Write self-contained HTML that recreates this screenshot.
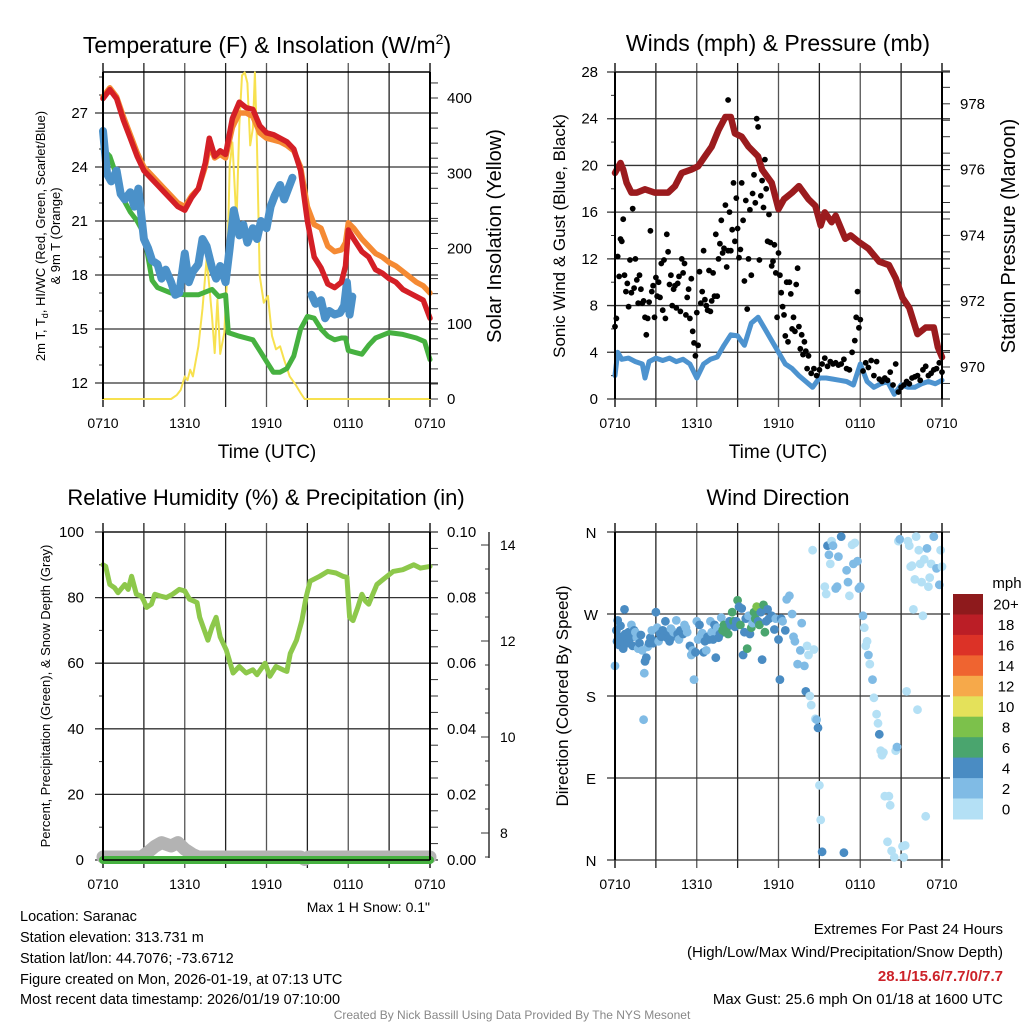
<!DOCTYPE html>
<html><head><meta charset="utf-8"><style>
html,body{margin:0;padding:0;background:#fff}
svg{display:block;font-family:"Liberation Sans",Arial,sans-serif}
</style></head><body>
<svg id="s" width="1024" height="1024" viewBox="0 0 1024 1024" xmlns="http://www.w3.org/2000/svg">
<g id="static">
<text x="267" y="53" font-size="23" text-anchor="middle">Temperature (F) &amp; Insolation (W/m<tspan font-size="14" dy="-9">2</tspan><tspan dy="9">)</tspan></text>
<text x="778" y="51" font-size="23" text-anchor="middle">Winds (mph) &amp; Pressure (mb)</text>
<text x="266" y="505" font-size="22" text-anchor="middle">Relative Humidity (%) &amp; Precipitation (in)</text>
<text x="778" y="505" font-size="22" text-anchor="middle">Wind Direction</text>
<text x="267" y="458" font-size="19" text-anchor="middle">Time (UTC)</text>
<text x="778" y="458" font-size="19" text-anchor="middle">Time (UTC)</text>
<text transform="translate(45,236) rotate(-90)" font-size="13" text-anchor="middle">2m T, T<tspan font-size="9" dy="3">d</tspan><tspan dy="-3">, HI/WC (Red, Green, Scarlet/Blue)</tspan></text>
<text transform="translate(60,236) rotate(-90)" font-size="13" text-anchor="middle">&amp; 9m T (Orange)</text>
<text transform="translate(501,236) rotate(-90)" font-size="20" text-anchor="middle">Solar Insolation (Yellow)</text>
<text transform="translate(565,236) rotate(-90)" font-size="17" text-anchor="middle">Sonic Wind &amp; Gust (Blue, Black)</text>
<text transform="translate(1015,236) rotate(-90)" font-size="20" text-anchor="middle">Station Pressure (Maroon)</text>
<text transform="translate(50,696) rotate(-90)" font-size="13" text-anchor="middle">Percent, Precipitation (Green), &amp; Snow Depth (Gray)</text>
<text transform="translate(568,696) rotate(-90)" font-size="17" text-anchor="middle">Direction (Colored By Speed)</text>
<text x="430" y="912" font-size="14" text-anchor="end">Max 1 H Snow: 0.1"</text>
<g font-size="14.5">
<text x="20" y="921">Location: Saranac</text>
<text x="20" y="942">Station elevation: 313.731 m</text>
<text x="20" y="963">Station lat/lon: 44.7076; -73.6712</text>
<text x="20" y="984">Figure created on Mon, 2026-01-19, at 07:13 UTC</text>
<text x="20" y="1004">Most recent data timestamp: 2026/01/19 07:10:00</text>
</g>
<g font-size="15" text-anchor="end">
<text x="1003" y="934">Extremes For Past 24 Hours</text>
<text x="1003" y="957">(High/Low/Max Wind/Precipitation/Snow Depth)</text>
<text x="1003" y="981" fill="#cc2229" font-weight="bold">28.1/15.6/7.7/0/7.7</text>
<text x="1003" y="1004">Max Gust: 25.6 mph On 01/18 at 1600 UTC</text>
</g>
<text x="512" y="1019" font-size="12" fill="#888" text-anchor="middle">Created By Nick Bassill Using Data Provided By The NYS Mesonet</text>
</g>
</svg>
<script>
// ---- data (hours since 0710 UTC) ----
const timeLabels=["0710","1310","1910","0110","0710"];
const tempTicks=[12,15,18,21,24,27];
const solarTicks=[0,100,200,300,400];
const windTicks=[0,4,8,12,16,20,24,28];
const pressTicks=[970,972,974,976,978];
const rhTicks=[0,20,40,60,80,100];
const precipTicks=["0.00","0.02","0.04","0.06","0.08","0.10"];
const snowTicks=[8,10,12,14];
const dirTicks=["N","E","S","W","N"];
const cbLabels=["0","2","4","6","8","10","12","14","16","18","20+"];
const cbColors=["#b4e0f5","#80bbe5","#4a8cc3","#4aa56e","#7cc14b","#e4e15a","#f6a94a","#ef6430","#dc3227","#bb1e26","#8e1a1c"];

const redH=[0,0.5,1,1.5,2,2.5,3,3.5,4,4.5,5,5.5,6,6.5,7,7.5,7.8,8.2,8.6,9,9.5,10,10.5,11,11.5,12,12.5,13,13.5,14,14.5,15,15.5,16,16.5,17,17.5,17.8,18,18.4,19,19.5,20,20.5,21,21.5,22,22.5,23,23.5,24];
const redT=[27.8,28.3,27.8,26.6,25.6,24.6,23.8,23.4,23.0,22.6,22.2,21.8,21.6,22.3,22.8,24.2,25.6,24.6,24.9,24.7,26.7,27.6,27.3,27.2,26.3,25.9,25.8,25.6,25.4,25.0,23.8,21.0,19.0,18.4,17.5,17.3,17.6,18.5,20.5,20.0,19.3,19.0,18.3,18.1,17.8,17.6,17.2,17.0,16.8,16.6,15.6];
const orangeH=[0,0.5,1,1.5,2,2.5,3,3.5,4,4.5,5,5.5,6,6.5,7,7.5,7.8,8.2,8.6,9,9.5,10,10.5,11,11.5,12,12.5,13,13.5,14,14.5,15,15.5,16,16.5,17,17.5,17.8,18,18.4,19,19.5,20,20.5,21,21.5,22,22.5,23,23.5,24];
const orangeT=[27.9,28.4,27.9,26.8,25.8,24.8,24.0,23.6,23.2,22.8,22.4,22.0,21.8,22.4,22.8,24.0,25.2,24.5,24.7,24.5,26.2,27.0,27.0,26.8,25.9,25.6,25.5,25.4,25.2,24.9,24.0,21.8,20.8,20.6,19.6,19.3,19.4,19.8,20.9,20.6,20.0,19.6,19.2,19.0,18.7,18.5,18.2,17.9,17.6,17.4,17.0];
const greenH=[0,0.5,1,1.5,2,2.5,3,3.3,3.6,4,5,6,7,8,8.5,9,9.2,10,11,11.5,12,12.5,13,13.5,14,14.5,15,15.5,16,16.5,17,17.5,17.8,18,18.5,19,19.5,20,21,22,23,23.6,24];
const greenT=[25.0,24.6,23.5,22.2,21.5,21.0,20.3,19.0,17.7,17.3,17.0,16.9,16.9,17.2,16.8,16.9,14.8,14.6,14.4,13.8,13.2,12.6,12.6,12.8,13.5,15.0,15.7,15.6,15.0,14.6,14.4,14.5,14.5,13.8,13.7,13.6,14.1,14.5,14.8,14.7,14.5,14.3,13.3];
const blueH=[0,0.3,0.6,1,1.3,1.6,2,2.3,2.6,3,3.3,3.6,4,4.3,4.6,5,5.3,5.6,6,6.3,6.6,7,7.3,7.6,8,8.3,8.6,9,9.3,9.6,10,10.3,10.6,11,11.3,11.6,12,12.3,12.6,13,13.3,13.6,13.9,14.2,15.3,15.6,16,16.3,16.6,17,17.4,17.7,17.9,18.1,18.3,23.7,24];
const blueT=[26.0,23.6,23.2,23.8,22.5,22.2,22.6,21.8,22.8,20.0,19.5,18.8,18.6,17.8,18.3,17.6,16.9,17.0,19.2,17.6,18.2,18.6,20.0,19.6,18.4,17.8,18.5,17.6,19.5,21.6,20.2,20.8,19.8,20.6,20.0,21.0,20.6,21.8,22.4,23.0,22.2,22.8,23.4,null,16.9,16.4,16.6,15.6,16.0,15.8,15.9,16.3,17.6,15.8,16.8,null,15.1];
const solarH=[0,5,5.4,5.7,6,6.2,6.4,6.6,7,7.3,7.6,7.8,8,8.2,8.4,8.6,8.9,9.1,9.3,9.5,9.8,10.0,10.2,10.4,10.6,10.8,11.0,11.15,11.3,11.5,11.8,12.1,12.4,12.7,13.0,13.3,13.7,14.1,14.5,14.8,24];
const solarW=[0,0,5,12,30,25,39,30,70,120,186,150,110,61,132,60,88,160,310,341,235,363,430,434,420,337,360,434,337,164,128,137,84,66,70,52,30,20,8,0,0];

const pressH=[0,0.4,0.6,0.85,1.2,1.6,2.2,2.9,3.9,4.4,4.9,5.6,6.1,6.6,7.1,7.6,8.1,8.5,8.8,9.3,9.8,10.5,10.8,11.5,12,12.4,13,13.5,14.2,14.7,15.1,15.4,15.9,16.2,16.9,17.3,17.9,18.6,19.4,20.1,20.6,21.1,21.6,22.2,22.8,23.4,23.7,24];
const pressMb=[975.9,976.2,976.0,975.6,975.3,975.3,975.4,975.3,975.3,975.5,975.9,976.0,976.1,976.4,976.7,977.2,977.6,977.6,977.1,977.0,976.7,976.4,976.0,975.6,974.8,975.1,975.3,975.5,975.1,974.9,974.3,974.7,974.4,974.6,973.9,974.0,973.8,973.6,973.2,973.1,972.7,972.1,971.8,971.0,971.2,971.2,970.6,970.3];
const windH=[0,0.2,0.5,1,1.5,2,2.2,2.5,3,3.5,4,4.5,5,5.5,6,6.5,7,7.5,8,8.5,9,9.5,10,10.5,11,11.5,12,12.5,13,13.5,14,14.5,15,15.5,16,16.5,17,17.5,18,18.5,19,19.5,20,20.5,21,21.5,22,22.5,23,23.5,24];
const windMph=[2.0,4.0,3.4,3.5,3.2,3.0,1.8,3.2,3.5,3.3,3.5,3.2,3.4,3.0,1.8,3.0,3.4,3.6,4.6,5.5,5.4,4.6,6.5,7.0,6.0,5.0,4.0,3.0,2.6,2.0,1.5,1.0,1.8,1.8,1.7,1.6,1.5,1.2,3.0,1.5,1.0,1.3,1.5,0.4,1.2,1.0,1.0,1.3,1.5,1.3,1.6];
const gustH=[0.0,0.1,0.2,0.3,0.4,0.5,0.6,0.7,0.8,0.9,1.0,1.1,1.2,1.3,1.4,1.5,1.6,1.7,1.8,1.9,2.0,2.1,2.2,2.3,2.4,2.5,2.6,2.7,2.8,2.9,3.0,3.1,3.2,3.3,3.4,3.5,3.6,3.7,3.8,3.9,4.0,4.1,4.2,4.3,4.4,4.5,4.6,4.7,4.8,4.9,5.0,5.1,5.2,5.3,5.4,5.5,5.6,5.7,5.8,5.9,6.0,6.1,6.2,6.3,6.4,6.5,6.6,6.7,6.8,6.9,7.0,7.1,7.2,7.3,7.4,7.5,7.6,7.7,7.8,7.9,8.0,8.1,8.2,8.3,8.4,8.5,8.6,8.7,8.8,8.9,9.0,9.1,9.2,9.3,9.4,9.5,9.6,9.7,9.8,9.9,10.0,10.1,10.2,10.3,10.4,10.5,10.6,10.7,10.8,10.9,11.0,11.1,11.2,11.3,11.4,11.5,11.6,11.7,11.8,11.9,12.0,12.1,12.2,12.3,12.4,12.5,12.6,12.7,12.8,12.9,13.0,13.1,13.2,13.3,13.4,13.5,13.6,13.7,13.8,13.9,14.0,14.1,14.2,14.4,14.6,14.8,15.0,15.2,15.4,15.6,15.8,16.0,16.2,16.4,16.6,16.8,17.0,17.2,17.4,17.6,17.7,17.8,17.9,18.0,18.2,18.4,18.6,18.8,19.0,19.2,19.4,19.6,19.8,20.0,20.2,20.4,20.6,20.8,21.0,21.2,21.4,21.6,21.8,22.0,22.2,22.4,22.6,22.8,23.0,23.2,23.4,23.6,23.8,24.0,8.3];
const gustMph=[6.2,6.9,12.2,10.5,13.7,13.5,15.4,10.6,9.2,9.9,7.9,11.9,9.1,16.3,9.5,12.0,10.2,8.2,10.6,9.4,8.2,8.4,7.0,5.5,6.9,8.3,14.4,9.2,9.7,7.0,10.4,8.8,10.0,8.7,11.6,7.6,11.9,6.9,14.1,12.6,9.8,10.6,8.0,9.4,9.7,7.8,9.9,10.5,7.5,12.0,10.8,11.6,7.2,8.7,9.4,6.9,10.3,5.8,4.8,3.7,7.4,4.6,10.9,8.2,9.2,12.7,8.5,8.0,7.6,11.0,7.5,8.4,10.8,8.8,14.1,8.8,12.0,13.3,15.3,12.5,12.9,16.6,11.3,12.7,16.0,12.7,14.5,18.5,13.5,17.2,14.6,12.1,12.8,18.5,15.3,10.1,17.0,7.7,12.0,16.2,10.6,17.6,19.2,16.8,24.0,23.3,11.9,17.4,18.7,16.4,20.5,18.0,13.5,15.8,13.4,11.4,11.8,13.2,10.8,7.0,12.5,10.6,9.1,7.9,7.2,5.4,10.0,4.9,10.0,9.0,6.0,7.0,5.8,9.8,11.2,6.2,4.3,5.5,3.8,4.9,4.1,2.6,3.7,2.2,2.6,2.0,2.5,3.0,3.5,2.8,3.2,3.0,3.1,2.9,3.0,3.4,2.6,2.5,4.0,5.0,7.0,9.2,6.1,6.8,2.4,3.1,2.7,3.3,2.0,3.2,1.7,1.5,1.8,1.6,2.3,1.2,3.0,0.6,1.0,1.2,1.5,1.3,1.8,1.9,2.0,1.6,2.5,2.8,2.0,2.2,2.5,2.6,3.1,2.3,25.6];

const rhH=[0,0.2,0.5,0.85,1.1,1.6,1.85,2.1,2.45,2.8,3.0,3.2,3.55,3.8,4.2,4.65,5.1,5.6,6.0,6.35,6.9,7.1,7.7,8.0,8.3,8.6,9.05,9.55,10,10.5,11,11.3,11.9,12.25,12.7,13.2,13.5,13.75,14.2,14.6,14.9,15.2,15.9,16.5,17.1,17.6,17.9,18.1,18.35,18.7,19.0,19.25,19.5,19.7,20.1,20.7,21.3,22.0,22.8,23.3,24];
const rhPct=[90,89.5,84,83,81.5,84,82.5,86.5,81,80.5,79,77,78,81,80.5,80,81,82.5,82,79.5,78.5,74,67,71,74,68,64,57,59,57,58,56.5,60,56,59,58,57.5,63,67,73,80,85,86.5,88,87.5,86.5,86.2,74,73,77,81,79,78,80,84,86,88,88.5,90,89,89.5];
const precipH=[0,24];
const precipIn=[0,0];
const snowH=[0,2.8,3.3,3.8,4.3,5.0,5.5,6.0,6.6,7,14.5,14.8,15.1,24];
const snowIn=[7.5,7.5,7.6,7.72,7.8,7.73,7.8,7.66,7.55,7.5,7.5,7.45,7.5,7.5];

const dirH=[0.0,0.1,0.15,0.2,0.3,0.35,0.4,0.5,0.6,0.7,0.75,0.8,0.9,
1.0,1.1,1.2,1.3,1.4,1.5,1.6,1.7,1.8,1.9,
2.0,2.1,2.15,2.2,2.3,2.4,2.5,2.6,2.7,2.8,2.9,
3.0,3.1,3.2,3.3,3.4,3.5,3.6,3.7,3.8,3.9,
4.0,4.1,4.2,4.3,4.5,4.6,4.7,4.8,
5.0,5.1,5.2,5.3,5.5,5.6,5.7,5.8,5.9,
6.0,6.1,6.2,6.3,6.4,6.5,6.6,6.7,6.8,6.9,
7.0,7.1,7.2,7.3,7.4,7.5,7.6,7.7,7.8,7.9,
8.0,8.1,8.2,8.3,8.4,8.5,8.6,8.7,8.8,8.9,
9.0,9.1,9.2,9.3,9.4,9.5,9.6,9.7,9.8,9.9,
10.0,10.1,10.2,10.3,10.4,10.5,10.6,10.7,10.8,10.9,
11.0,11.1,11.2,11.3,11.5,11.7,11.8,
12.0,12.1,12.2,12.3,12.5,12.6,12.8,
13.0,13.1,13.2,13.4,13.6,13.7,13.9,
14.0,14.1,14.2,14.3,14.4,14.5,14.6,14.7,14.8,14.9,
15.0,15.1,15.2,15.4,15.5,15.6,15.7,15.8,15.9,
16.0,16.2,16.3,16.4,16.6,16.8,
17.0,17.1,17.2,17.4,17.5,17.6,17.8,17.9,
18.0,18.2,18.3,18.4,18.5,18.6,18.7,18.9,
19.0,19.2,19.3,19.4,19.5,19.6,19.7,19.8,
20.0,20.1,20.2,20.3,20.5,20.6,20.7,20.8,20.9,
21.1,21.2,21.3,21.4,21.5,21.6,21.7,21.8,21.9,
22.0,22.1,22.2,22.3,22.4,22.5,22.6,22.7,22.8,22.9,
23.0,23.1,23.2,23.4,23.6,23.8,23.9,
24.0];
const dirDeg=[213,252,240,263,236,245,257,240,232,275,248,245,238,
250,243,258,235,252,250,244,232,238,247,
230,154,205,218,222,234,238,244,252,238,240,
272,255,240,248,245,252,246,262,244,250,
240,254,245,250,263,248,242,252,
248,258,255,250,235,225,230,198,228,
262,242,258,246,249,228,240,230,245,242,
262,250,242,258,222,255,244,248,266,252,
258,250,255,248,262,258,272,262,256,262,
285,278,258,276,225,250,265,232,268,248,
255,260,272,265,278,262,258,272,220,280,
250,262,275,265,268,253,265,
242,198,265,262,252,286,290,
270,245,240,215,230,260,213,
185,235,225,180,170,340,231,155,154,145,
82,44,9,300,292,345,335,325,350,
345,298,300,333,355,8,
318,305,290,346,325,348,328,298,
300,268,255,235,240,225,215,198,
178,160,150,138,120,115,118,70,
20,70,60,10,3,120,124,350,352,
15,3,16,185,350,345,322,323,275,
308,355,165,340,325,305,268,330,48,342,
300,310,325,355,320,302,340,
322];
const dirSpd=[3,4,4,5,4,5,4,5,4,5,4,5,5,
4,5,3,4,5,3,3,3,4,5,
3,3,3,4,5,3,4,5,3,4,5,
5,3,3,4,5,5,5,5,4,5,
5,3,4,3,3,5,3,4,
5,3,3,3,5,3,3,3,4,
3,3,5,3,3,4,4,3,5,5,
3,3,5,4,5,3,5,4,3,6,
6,7,6,6,5,4,7,6,5,5,
6,4,6,5,5,4,4,6,3,4,
6,3,6,7,8,4,6,4,5,6,
6,5,5,4,5,4,3,
5,5,4,3,4,3,3,
3,3,3,3,3,2,3,
4,1,1,1,1,1,1,1,2,4,
1,1,5,1,1,5,2,1,1,
2,3,3,2,5,4,
2,2,1,1,2,1,3,3,
2,3,1,1,1,2,1,3,
1,1,1,4,1,1,1,1,
1,1,1,1,1,1,2,1,3,
1,1,1,1,1,1,1,1,1,
1,1,1,1,1,1,1,1,1,3,
1,1,1,3,2,3,1,
1];

// ---- helpers ----
const NS="http://www.w3.org/2000/svg";
const svg=document.getElementById('s');
function mk(tag,attrs,parent){const e=document.createElementNS(NS,tag);for(const k in attrs)e.setAttribute(k,attrs[k]);(parent||svg).appendChild(e);return e;}
const PX0=103,PW=327;
function xAt(off,h){return off+PX0+h*PW/24;}
const tempY=v=>113+(27-v)*18;
const solarY=v=>399-v*0.7525;
const windY=v=>399-v*(327/28);
const pressY=v=>367-(v-970)*32.9;
const rhY=v=>532+(100-v)*3.28;
const precipY=v=>860-v*3280;
const snowY=v=>641+(12-v)*48;
const dirY=v=>860-v*(328/360);

function pathD(off,hs,vs,yf){let d="",pen=false;for(let i=0;i<hs.length;i++){if(vs[i]===null){pen=false;continue;}d+=(pen?"L":"M")+xAt(off,hs[i]).toFixed(1)+" "+yf(vs[i]).toFixed(1);pen=true;}return d;}

function frame(off,top,bottom,name){
  const g=mk('g',{});
  
  
  for(let k=0;k<=8;k++){const x=xAt(off,k*3);
    const l=mk('line',{x1:x,x2:x,y1:top-9,y2:bottom+8,stroke:(k%2==1?'#222':'#555'),'stroke-width':(k==0||k==8)?2:1.3},g);
    
    
  }
  for(let k=0;k<5;k++){const t=mk('text',{x:xAt(off,k*6),y:bottom+29,'font-size':14,'text-anchor':'middle'},g);t.textContent=timeLabels[k];
    
    }
  mk('line',{x1:off+PX0,x2:off+PX0+PW,y1:top,y2:top,stroke:'#000','stroke-width':1.5},g);
}
function hgrid(off,ys,x1ext,x2ext,name,dark){
  ys.forEach(y=>{const l=mk('line',{x1:off+PX0-x1ext,x2:off+PX0+PW+x2ext,y1:y,y2:y,stroke:dark?'#111':'#333','stroke-width':1.3});
    
    });
}
function leftLabels(off,vals,yf,xEnd,fs,name){vals.forEach(v=>{const t=mk('text',{x:xEnd,y:yf(v)+5,'font-size':fs||15,'text-anchor':'end'});t.textContent=v;
  
  });}
function rightLabels(x,vals,yf,fs,name){vals.forEach(v=>{const t=mk('text',{x:x,y:yf(+v)+5,'font-size':fs||15});t.textContent=v;
  
  });}
function ticks(x,ys,len){ys.forEach(y=>mk('line',{x1:x,x2:x+len,y1:y,y2:y,stroke:'#333','stroke-width':1}));}
function series(off,hs,vs,yf,color,w,name){const p=mk('path',{d:pathD(off,hs,vs,yf),fill:'none',stroke:color,'stroke-width':w,'stroke-linejoin':'round','stroke-linecap':'round'});
  
  return p;}

// ---- Panel 1 ----
frame(0,72,399,'temperature');
hgrid(0,tempTicks.map(tempY),8,8,'temp-gridline');
leftLabels(0,tempTicks,tempY,88,15,'temp-tick-label');
const minorT=[];for(let v=12;v<=29;v++)minorT.push(tempY(v));ticks(PX0,minorT,-4);
const minorS=[];for(let v=0;v<=420;v+=20)minorS.push(solarY(v));ticks(PX0+PW,minorS,8);
rightLabels(447,solarTicks,solarY,15,'solar-tick-label');
series(0,solarH,solarW,solarY,'#f7e14f',2,'solar-insolation-line');
series(0,greenH,greenT,tempY,'#46b140',5,'dewpoint-line');
series(0,orangeH,orangeT,tempY,'#f58a33',5.5,'temp-9m-line');
series(0,blueH,blueT,tempY,'#4b91c9',8,'windchill-line');
series(0,redH,redT,tempY,'#d41f26',5.5,'temp-2m-line');
mk('line',{x1:PX0,x2:PX0,y1:72,y2:399,stroke:'#000','stroke-width':2});
mk('line',{x1:PX0+PW,x2:PX0+PW,y1:72,y2:399,stroke:'#000','stroke-width':2});

// ---- Panel 2 ----
const O2=512;
frame(O2,72,399,'winds');
hgrid(O2,windTicks.map(windY),8,8,'wind-gridline');
leftLabels(O2,windTicks,windY,598,15,'wind-tick-label');
const minorW=[];for(let v=0;v<=28;v+=2)minorW.push(windY(v));ticks(O2+PX0,minorW,-4);
const minorP=[];for(let v=969.5;v<=979.2;v+=0.5)minorP.push(pressY(v));ticks(O2+PX0+PW,minorP,8);
rightLabels(960,pressTicks,pressY,15,'pressure-tick-label');
series(O2,pressH,pressMb,pressY,'#9b1b1e',6.5,'pressure-line');
series(O2,windH,windMph,windY,'#4d93cf',5,'sonic-wind-line');
gustH.forEach((h,i)=>{const c=mk('circle',{cx:xAt(O2,h).toFixed(1),cy:windY(gustMph[i]).toFixed(1),r:2.9,fill:'#000'});
  
  });
mk('line',{x1:O2+PX0,x2:O2+PX0,y1:72,y2:399,stroke:'#000','stroke-width':2});
mk('line',{x1:O2+PX0+PW,x2:O2+PX0+PW,y1:72,y2:399,stroke:'#000','stroke-width':2});

// ---- Panel 3 ----
frame(0,532,860,'humidity');
hgrid(0,rhTicks.map(rhY),8,8,'rh-gridline');
leftLabels(0,rhTicks,rhY,84,15,'rh-tick-label');
const minorR=[];for(let v=0;v<=100;v+=10)minorR.push(rhY(v));ticks(PX0,minorR,-4);
const minorPr=[];for(let v=0;v<=100;v+=5)minorPr.push(rhY(v));ticks(PX0+PW,minorPr,8);
precipTicks.forEach(v=>{const t=mk('text',{x:447,y:precipY(+v)+5,'font-size':15});t.textContent=v;
  
  });
const sa=mk('line',{x1:489,x2:489,y1:532,y2:858,stroke:'#333','stroke-width':1.5});


const minorSn=[];for(let v=7.5;v<=14.25;v+=0.5)minorSn.push(snowY(v));ticks(489,minorSn,-4);
ticks(489,snowTicks.map(snowY),-8);
rightLabels(500,snowTicks,snowY,14,'snow-tick-label');
series(0,snowH,snowIn,snowY,'#b3b3b3',13,'snow-depth-line');
series(0,precipH,precipIn,precipY,'#46b140',8,'precipitation-line');
series(0,rhH,rhPct,rhY,'#8dc84b',5,'relative-humidity-line');
mk('line',{x1:PX0,x2:PX0,y1:532,y2:860,stroke:'#000','stroke-width':2});
mk('line',{x1:PX0+PW,x2:PX0+PW,y1:532,y2:860,stroke:'#000','stroke-width':2});
mk('line',{x1:PX0,x2:PX0+PW,y1:860,y2:860,stroke:'#000','stroke-width':1.5});

// ---- Panel 4 ----
frame(O2,532,860,'direction');
const dirVals=[0,90,180,270,360];
hgrid(O2,dirVals.map(dirY),8,8,'direction-gridline');
dirVals.forEach((v,i)=>{const t=mk('text',{x:591,y:dirY(v)+6,'font-size':15,'text-anchor':'middle'});t.textContent=dirTicks[i];
  
  });
dirH.forEach((h,i)=>{const idx=Math.min(10,Math.floor((dirSpd[i]||0)/2));
  const c=mk('circle',{cx:xAt(O2,h).toFixed(1),cy:dirY(dirDeg[i]).toFixed(1),r:4.4,fill:cbColors[idx]});
  
  });
mk('line',{x1:O2+PX0,x2:O2+PX0,y1:532,y2:860,stroke:'#000','stroke-width':2});
mk('line',{x1:O2+PX0+PW,x2:O2+PX0+PW,y1:532,y2:860,stroke:'#000','stroke-width':2});
// colorbar
const cbTop=594,cbH=225/11;
const mph=mk('text',{x:1007,y:588,'font-size':15,'text-anchor':'middle'});mph.textContent='mph';


for(let k=0;k<11;k++){const idx=10-k;
  const r=mk('rect',{x:953,y:(cbTop+k*cbH).toFixed(1),width:30,height:(cbH+0.5).toFixed(1),fill:cbColors[idx]});
  
  
  const t=mk('text',{x:1006,y:(cbTop+k*cbH+cbH/2+5.5).toFixed(1),'font-size':15,'text-anchor':'middle'});t.textContent=cbLabels[idx];
  
  }
</script>
</body></html>
